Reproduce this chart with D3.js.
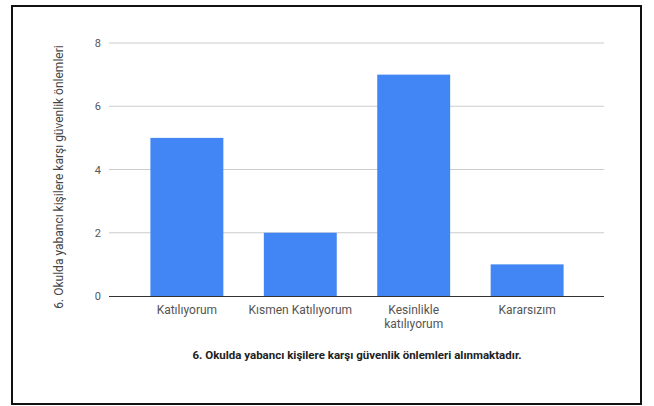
<!DOCTYPE html>
<html><head><meta charset="utf-8">
<script src="https://cdn.jsdelivr.net/npm/d3@7"></script>
<style>body{margin:0;background:#fff}svg{display:block}</style>
</head><body>
<script>
const categories = [["Katılıyorum"], ["Kısmen Katılıyorum"], ["Kesinlikle", "katılıyorum"], ["Kararsızım"]];
const values = [5, 2, 7, 1];
const yTicks = [0, 2, 4, 6, 8];
const yTitle = "6. Okulda yabancı kişilere karşı güvenlik önlemleri";
const xTitle = "6. Okulda yabancı kişilere karşı güvenlik önlemleri alınmaktadır.";

const W = 654, H = 406;
const svg = d3.select("body").append("svg").attr("width", W).attr("height", H);
svg.append("rect").attr("x", 12).attr("y", 6).attr("width", 629).attr("height", 398)
  .attr("fill", "#fff").attr("stroke", "#111").attr("stroke-width", 2);

const y = d3.scaleLinear().domain([0, 8]).range([296, 43]);
const x = d3.scaleBand().domain(d3.range(categories.length)).range([130, 584]).paddingInner(0.357).paddingOuter(0.18);
const font = "Roboto, Arial, sans-serif";

svg.append("g").selectAll("line").data(yTicks.filter(d => d > 0)).join("line")
  .attr("x1", 109).attr("x2", 604).attr("y1", d => y(d)).attr("y2", d => y(d))
  .attr("stroke", "#ccc").attr("stroke-width", 1);

svg.append("g").selectAll("text").data(yTicks).join("text")
  .attr("x", 101).attr("y", d => y(d) + 4).attr("text-anchor", "end")
  .attr("font-family", font).attr("font-size", 11).attr("fill", "#555").text(d => d);

svg.append("g").selectAll("rect").data(values).join("rect")
  .attr("x", (d, i) => x(i)).attr("width", x.bandwidth())
  .attr("y", d => y(d)).attr("height", d => y(0) - y(d))
  .attr("fill", "#4285f4");

svg.append("line").attr("x1", 109).attr("x2", 604).attr("y1", y(0) + 0.5).attr("y2", y(0) + 0.5)
  .attr("stroke", "#333").attr("stroke-width", 1);

const xl = svg.append("g").selectAll("text").data(categories).join("text")
  .attr("text-anchor", "middle").attr("font-family", font).attr("font-size", 12).attr("fill", "#555");
xl.each(function(lines, i) {
  const t = d3.select(this);
  lines.forEach((l, j) => t.append("tspan").attr("x", x(i) + x.bandwidth() / 2).attr("y", 314 + j * 14).text(l));
});

svg.append("text").attr("x", 357).attr("y", 359).attr("text-anchor", "middle")
  .attr("font-family", font).attr("font-size", 11.5).attr("font-weight", "bold").attr("fill", "#222").text(xTitle);

svg.append("text").attr("transform", "translate(63,177) rotate(-90)").attr("text-anchor", "middle")
  .attr("font-family", font).attr("font-size", 12).attr("fill", "#444").text(yTitle);
</script>
</body></html>
